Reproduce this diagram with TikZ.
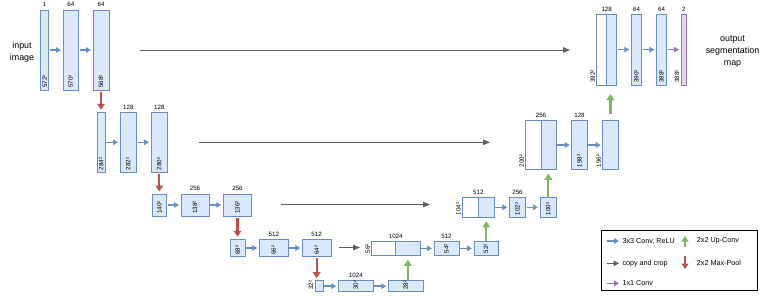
\documentclass[tikz,border=0pt]{standalone}
\usepackage{fontspec}
\setmainfont{Liberation Sans}
\usetikzlibrary{arrows.meta,calc}
\definecolor{bfill}{HTML}{DAE8FC}
\definecolor{bdraw}{HTML}{6C8EBF}
\definecolor{pfill}{HTML}{E1D5E7}
\definecolor{pdraw}{HTML}{9673A6}
\definecolor{redc}{HTML}{B85450}
\definecolor{greenc}{HTML}{82B366}
\definecolor{grayc}{HTML}{5F5F5F}
\definecolor{convc}{HTML}{6C8EBF}
\newcommand{\ubox}[6][fm]{\node[#1, anchor=north west, minimum width={#5-#3}, minimum height={#6-#4}] (#2) at (#3,#4) {};}
\newcommand{\inlab}[2]{\node[num, rotate=90, anchor=west] (#1-s) at ($(#1.south)+(0,-2)$) {#2};}
\newcommand{\leftlab}[2]{\node[num, rotate=90, anchor=south west] (#1-s) at ($(#1.south west)+(-1.5,-2)$) {#2};}
\newcommand{\toplab}[3]{\node[num, anchor=south] (#1) at ($(#2)+(0,-3)$) {#3};}
\begin{document}
\begin{tikzpicture}[x=1pt,y=-1pt,
  fm/.style={draw=bdraw, fill=bfill, line width=0.8pt, inner sep=0pt, outer sep=0pt},
  wm/.style={draw=bdraw, fill=white, line width=0.8pt, inner sep=0pt, outer sep=0pt},
  pm/.style={draw=pdraw, fill=pfill, line width=0.8pt, inner sep=0pt, outer sep=0pt},
  num/.style={font=\fontsize{6.2}{7}\selectfont, inner sep=0pt},
  legt/.style={font=\fontsize{7.2}{8}\selectfont, inner sep=0pt},
  bigt/.style={font=\fontsize{8.9}{12}\selectfont, inner sep=0pt, align=center},
  conv/.style={draw=convc, line width=1.6pt, -{Triangle[length=5pt,width=5.5pt]}, shorten <=1pt, shorten >=2pt},
  onex/.style={draw=pdraw, line width=1.6pt, -{Triangle[length=5pt,width=5.5pt]}, shorten <=1pt, shorten >=2pt},
  pool/.style={draw=redc, line width=2.2pt, -{Triangle[length=6pt,width=7.5pt]}, shorten <=1.7pt, shorten >=2.5pt},
  upc/.style={draw=greenc, line width=2.2pt, -{Triangle[length=6pt,width=7.5pt]}},
  copyc/.style={draw=grayc, line width=1pt, -{Triangle[length=7pt,width=5.5pt]}}
]
\useasboundingbox (0,0) rectangle (760,295);

% level 1
\ubox{a1}{40.7}{10}{48.7}{90}
\ubox{a2}{63}{10}{78.7}{90}
\ubox{a3}{93}{10}{109}{90}
% level 2
\ubox{b1}{97.3}{112.3}{105.3}{172.3}
\ubox{b2}{120}{112.3}{136.7}{172.3}
\ubox{b3}{151}{112.3}{167.7}{172.3}
% level 3
\ubox{c1}{152.3}{194}{166.7}{216}
\ubox{c2}{181}{194}{209}{216}
\ubox{c3}{223.3}{194}{251.7}{216}
% level 4
\ubox{d1}{230.7}{239.3}{245}{256.7}
\ubox{d2}{259.3}{239.3}{288.3}{256.7}
\ubox{d3}{302.3}{239.3}{331}{256.7}
% level 5
\ubox{e1}{315}{280.7}{323.3}{291.7}
\ubox{e2}{338.3}{280.7}{373.3}{291.7}
\ubox{e3}{388.3}{280.7}{423.3}{291.7}
% up level 4
\ubox[wm]{f1w}{371.7}{241.3}{395.7}{255.3}
\ubox{f1b}{395.7}{241.3}{420}{255.3}
\ubox{f2}{434}{241.3}{459}{255.3}
\ubox{f3}{474}{241.3}{498}{255.3}
% up level 3
\ubox[wm]{g1w}{462.3}{197.3}{478.3}{217.3}
\ubox{g1b}{478.3}{197.3}{494.3}{217.3}
\ubox{g2}{509.3}{197.3}{525.7}{217.3}
\ubox{g3}{540}{197.3}{556.7}{217.3}
% up level 2
\ubox[wm]{h1w}{525.7}{120.7}{541}{169.3}
\ubox{h1b}{541}{120.7}{556.3}{169.3}
\ubox{h2}{571.7}{120.7}{587.3}{169.3}
\ubox{h3}{602.7}{120.7}{618.3}{169.3}
% up level 1
\ubox[wm]{i1w}{596.7}{14.3}{606.7}{85}
\ubox{i1b}{606.7}{14.3}{616.7}{85}
\ubox{i2}{631.3}{14.3}{641.7}{85}
\ubox{i3}{656.3}{14.3}{666.7}{85}
\ubox[pm]{i4}{681}{14.3}{686.7}{85}

% top labels
\toplab{ta1}{a1.north}{1}
\toplab{ta2}{a2.north}{64}
\toplab{ta3}{a3.north}{64}
\toplab{tb2}{b2.north}{128}
\toplab{tb3}{b3.north}{128}
\toplab{tc2}{c2.north}{256}
\toplab{tc3}{c3.north}{256}
\toplab{td2}{d2.north}{512}
\toplab{td3}{d3.north}{512}
\toplab{te2}{e2.north}{1024}
\toplab{tf1}{f1w.north east}{1024}
\toplab{tf2}{f2.north}{512}
\toplab{tg1}{g1w.north east}{512}
\toplab{tg2}{g2.north}{256}
\toplab{th1}{h1w.north east}{256}
\toplab{th2}{h2.north}{128}
\toplab{ti1}{i1w.north east}{128}
\toplab{ti2}{i2.north}{64}
\toplab{ti3}{i3.north}{64}
\toplab{ti4}{i4.north}{2}

% size labels
\inlab{a1}{572²}
\inlab{a2}{570²}
\inlab{a3}{568²}
\inlab{b1}{284²}
\inlab{b2}{282²}
\inlab{b3}{280²}
\inlab{c1}{140²}
\inlab{c2}{138²}
\inlab{c3}{136²}
\inlab{d1}{68²}
\inlab{d2}{66²}
\inlab{d3}{64²}
\leftlab{e1}{32²}
\inlab{e2}{30²}
\inlab{e3}{28²}
\leftlab{f1w}{56²}
\inlab{f2}{54²}
\inlab{f3}{52²}
\leftlab{g1w}{104²}
\inlab{g2}{102²}
\inlab{g3}{100²}
\leftlab{h1w}{200²}
\inlab{h2}{198²}
\leftlab{h3}{196²}
\leftlab{i1w}{392²}
\inlab{i2}{390²}
\inlab{i3}{388²}
\leftlab{i4}{388²}

% conv arrows
\draw[conv] (a1.east) -- (a2.west);
\draw[conv] (a2.east) -- (a3.west);
\draw[conv] (b1.east) -- (b2.west);
\draw[conv] (b2.east) -- (b3.west);
\draw[conv] (c1.east) -- (c2.west);
\draw[conv] (c2.east) -- (c3.west);
\draw[conv] (d1.east) -- (d2.west);
\draw[conv] (d2.east) -- (d3.west);
\draw[conv] (e1.east) -- (e2.west);
\draw[conv] (e2.east) -- (e3.west);
\draw[conv] (f1b.east) -- (f2.west);
\draw[conv] (f2.east) -- (f3.west);
\draw[conv] (g1b.east) -- (g2.west);
\draw[conv] (g2.east) -- (g3.west);
\draw[conv] (h1b.east) -- (h2.west);
\draw[conv] (h2.east) -- (h3.west);
\draw[conv] (i1b.east) -- (i2.west);
\draw[conv] (i2.east) -- (i3.west);
\draw[onex] (i3.east) -- (i4.west);

% max pool arrows
\draw[pool] (a3.south) -- (a3.south |- b1.north);
\draw[pool] (b3.south) -- (b3.south |- c1.north);
\draw[pool] (c3.south) -- (c3.south |- d1.north);
\draw[pool] (d3.south) -- (d3.south |- e1.north);

% up-conv arrows
\draw[upc, shorten <=0.7pt, shorten >=4.5pt] (f1b.south |- e3.north) -- (f1b.south);
\draw[upc, shorten <=0.7pt, shorten >=4pt] (g1b.south |- f3.north) -- (g1b.south);
\draw[upc, shorten <=0.5pt, shorten >=4.5pt] (g3.north) -- (g3.north |- h1b.south);
\draw[upc, shorten <=7pt, shorten >=9pt] (h3.north) -- (h3.north |- i1b.south);

% copy and crop
\coordinate (cp1s) at (140,50);
\coordinate (cp1e) at (570,50);
\coordinate (cp2s) at (199.3,142.3);
\coordinate (cp2e) at (490,142.3);
\coordinate (cp3s) at (280.7,204.5);
\coordinate (cp3e) at (430,204.5);
\coordinate (cp4s) at (339.3,247.5);
\coordinate (cp4e) at (360,247.5);
\draw[copyc] (cp1s) -- (cp1e);
\draw[copyc] (cp2s) -- (cp2e);
\draw[copyc] (cp3s) -- (cp3e);
\draw[copyc] (cp4s) -- (cp4e);

% texts
\node[bigt] (inp) at (22,51.7) {input\\image};
\node[bigt] (outp) at (732.5,52) {output\\segmentation\\map};

% legend
\node[draw=black, line width=0.6pt, anchor=north west, minimum width=156, minimum height=60, inner sep=0pt] (leg) at (601,230) {};
\coordinate (l1a) at (606.7,241);
\coordinate (l1b) at (619,241);
\coordinate (l2a) at (606.7,263.3);
\coordinate (l2b) at (619,263.3);
\coordinate (l3a) at (606.7,283.3);
\coordinate (l3b) at (619,283.3);
\coordinate (l4a) at (685,247);
\coordinate (l4b) at (685,236);
\coordinate (l5a) at (685,256);
\coordinate (l5b) at (685,269);
\draw[conv, line width=1.4pt, shorten <=0pt, shorten >=0pt] (l1a) -- (l1b);
\draw[copyc, line width=1.4pt, -{Triangle[length=5.5pt,width=5.5pt]}] (l2a) -- (l2b);
\draw[onex, line width=1.4pt, shorten <=0pt, shorten >=0pt] (l3a) -- (l3b);
\draw[upc, line width=2pt, -{Triangle[length=5.5pt,width=7pt]}] (l4a) -- (l4b);
\draw[pool, line width=2pt, -{Triangle[length=5.5pt,width=7pt]}, shorten <=0pt, shorten >=0pt] (l5a) -- (l5b);
\node[legt, anchor=west] (lt1) at (622.3,241) {3x3 Conv, ReLU};
\node[legt, anchor=west] (lt2) at (622.3,263.3) {copy and crop};
\node[legt, anchor=west] (lt3) at (622.3,283.3) {1x1 Conv};
\node[legt, anchor=west] (lt4) at (696.7,241) {2x2 Up-Conv};
\node[legt, anchor=west] (lt5) at (696.7,263.3) {2x2 Max-Pool};
\end{tikzpicture}
\end{document}
